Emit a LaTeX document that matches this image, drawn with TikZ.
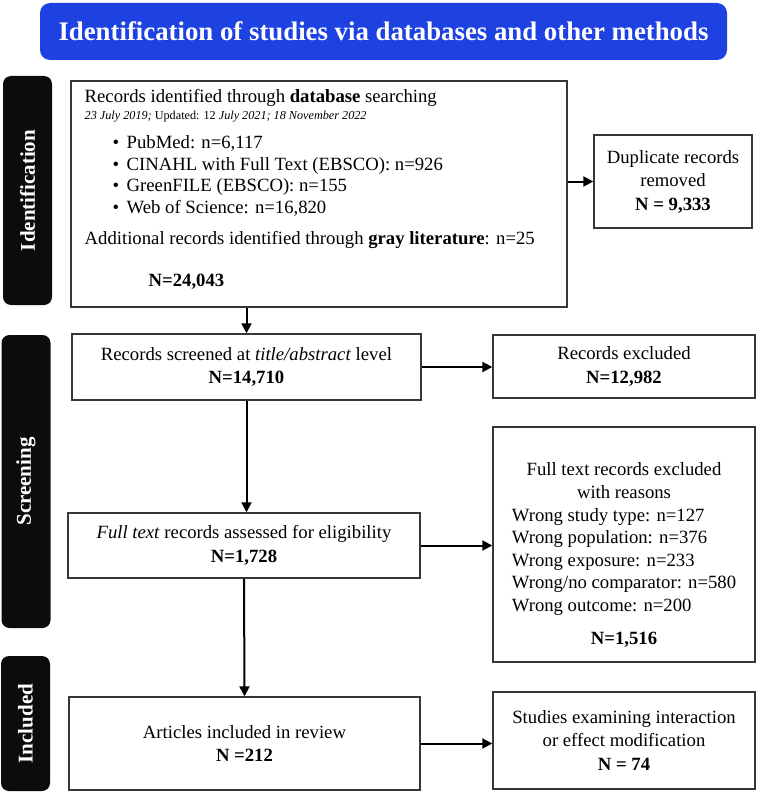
\documentclass[tikz,border=0pt]{standalone}
\usepackage{fontspec}
\setmainfont{Liberation Serif}
\usepackage{tikz}
\usetikzlibrary{positioning, arrows.meta}
\definecolor{prBlue}{RGB}{30, 66, 226}
\definecolor{prBlack}{RGB}{12, 12, 12}
\definecolor{prGray}{RGB}{55, 55, 55}
\tikzset{
    base/.style={
        font=\fontsize{9.35}{11.75}\selectfont,
        align=center,
        inner sep=0pt
    },
    box/.style={
        base,
        rectangle,
        draw=prGray,
        line width=0.7pt
    },
    phase/.style={
        rectangle,
        rounded corners=4pt,
        fill=prBlack,
        text=white,
        rotate=90,
        font=\fontsize{10.5}{12}\selectfont\bfseries,
        minimum height=24.5pt
    },
    banner/.style={
        rectangle,
        rounded corners=5pt,
        fill=prBlue,
        text=white,
        font=\fontsize{13.4}{16}\selectfont\bfseries
    },
    flow/.style={
        -{Triangle[length=5pt, width=5pt]},
        line width=1pt,
        color=black
    }
}

\begin{document}
\begin{tikzpicture}[x=0.5pt, y=-0.5pt]
  \useasboundingbox (0,0) rectangle (758,792);

  % Banner
  \node[banner, minimum width=343.5pt, minimum height=28.5pt] (banner) at (383.5,31.5)
      {Identification of studies via databases and other methods};

  % Phases
  \node[phase, minimum width=114.5pt] (identification) at (27.5,190.5) {Identification};
  \node[phase, minimum width=146.5pt] (screening) at (26,481.5) {Screening};
  \node[phase, minimum width=67.5pt] (included) at (25.5,723.5) {Included};

  % Identification
  \node[box, minimum width=248pt, minimum height=113pt] (search) at (319,194) {};
  \node[base, align=left, anchor=north west] (searchtext) at ([xshift=7pt, yshift=-4.5pt]search.north west) {
      Records identified through \textbf{database} searching\\[-3.5pt]
      {\fontsize{6.1}{8}\selectfont\itshape 23 July 2019;\upshape{} Updated: 12 \itshape July 2021; 18 November 2022}\\[3pt]
      \hspace*{14pt}\makebox[7pt][l]{\textbullet}PubMed: n=6,117\\[-1pt]
      \hspace*{14pt}\makebox[7pt][l]{\textbullet}CINAHL with Full Text (EBSCO): n=926\\[-1pt]
      \hspace*{14pt}\makebox[7pt][l]{\textbullet}GreenFILE (EBSCO): n=155\\[-1pt]
      \hspace*{14pt}\makebox[7pt][l]{\textbullet}Web of Science: n=16,820\\[4pt]
      Additional records identified through \textbf{gray literature}: n=25\\[9pt]
      \hspace*{32pt}\textbf{N=24,043}
  };
  \node[box, minimum width=79pt, minimum height=46.5pt] (duplicate) at (673,181.5)
      {Duplicate records\\removed\\\textbf{N = 9,333}};

  % Screening
  \node[box, minimum width=174.5pt, minimum height=33pt] (screened) at (246.5,367)
      {Records screened at \textit{title/abstract} level\\\textbf{N=14,710}};
  \node[box, minimum width=131pt, minimum height=31.5pt] (excluded) at (624,366.5)
      {Records excluded\\\textbf{N=12,982}};
  \node[box, minimum width=176pt, minimum height=32.5pt] (fulltext) at (244,545.5)
      {\textit{Full text} records assessed for eligibility\\\textbf{N=1,728}};
  \node[box, minimum width=131pt, minimum height=117.5pt, font=\fontsize{9.35}{11.3}\selectfont] (reasons) at (624,544.5) {
      \rule{0pt}{17pt}Full text records excluded\\with reasons\\[2.5pt]
      \begin{tabular}{@{}l@{}}
        Wrong study type: n=127\\
        Wrong population: n=376\\
        Wrong exposure: n=233\\
        Wrong/no comparator: n=580\\
        Wrong outcome: n=200
      \end{tabular}\\[6pt]
      \textbf{N=1,516}
  };

  % Included
  \node[box, minimum width=175.5pt, minimum height=46.5pt] (articles) at (244.5,743.5)
      {Articles included in review\\\textbf{N =212}};
  \node[box, minimum width=131pt, minimum height=48.5pt] (studies) at (624,740.5)
      {Studies examining interaction\\or effect modification\\\textbf{N = 74}};

  % Arrows
  \draw[flow] (search.east |- duplicate.west) -- (duplicate.west);
  \draw[flow] (screened.north |- search.south) -- (screened.north);
  \draw[flow] (screened.east) -- (screened.east -| excluded.west);
  \draw[flow] (screened.south) -- (screened.south |- fulltext.north);
  \draw[flow] (fulltext.east) -- (fulltext.east -| reasons.west);
  \draw[flow] (fulltext.south) -- (articles.north);
  \draw[flow] (articles.east) -- (articles.east -| studies.west);
\end{tikzpicture}
\end{document}
